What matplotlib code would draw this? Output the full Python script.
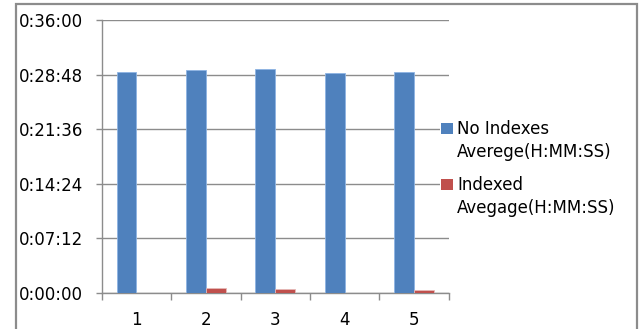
import matplotlib
matplotlib.use("Agg")
import matplotlib.pyplot as plt
from matplotlib.patches import Rectangle
from matplotlib.ticker import FuncFormatter, MultipleLocator, FixedLocator, NullFormatter
import numpy as np

# Run numbers and average durations in seconds
runs = ["1", "2", "3", "4", "5"]
no_index_avg = [1747, 1763, 1771, 1739, 1747]
indexed_avg = [0, 40, 32, 0, 24]
series_labels = [["No Indexes", "Averege(H:MM:SS)"],
                 ["Indexed", "Avegage(H:MM:SS)"]]

BLUE = "#4F81BD"
RED = "#C0504D"
GRID = "#8C8C8C"
FS = 12

plt.rcParams["font.family"] = ["DejaVu Sans"]

W, H = 640, 329
fig = plt.figure(figsize=(W / 100, H / 100), dpi=100)

def px(x0, y0, x1, y1):
    """Pixel box (top-left origin) to figure fractions."""
    return [x0 / W, 1 - y1 / H, (x1 - x0) / W, (y1 - y0) / H]

ax = fig.add_axes(px(101.7, 20, 448.7, 292.7))

x = np.arange(len(runs))
width = 1 / 3.5
ax.bar(x - width / 2, no_index_avg, width, color=BLUE,
       edgecolor="#8EB4E3", linewidth=0.6, zorder=3)
ax.bar(x + width / 2, indexed_avg, width, color=RED,
       edgecolor="#E6B9B8", linewidth=0.6, zorder=3)

ax.set_xlim(-0.5, len(runs) - 0.5)
ax.set_ylim(0, 2160)

def hms(v, pos=None):
    v = int(round(v))
    return f"{v // 3600}:{(v % 3600) // 60:02d}:{v % 60:02d}"

ax.yaxis.set_major_locator(MultipleLocator(432))
ax.yaxis.set_major_formatter(FuncFormatter(hms))
ax.grid(axis="y", color=GRID, linewidth=1.0, zorder=0)

# category boundary ticks with labels at the centres
ax.xaxis.set_major_locator(FixedLocator(np.arange(-0.5, len(runs), 1.0)))
ax.xaxis.set_major_formatter(NullFormatter())
ax.set_xticks(x, runs, minor=True)
ax.tick_params(axis="x", which="major", length=4.8, width=1.0,
               color=GRID, direction="out")
ax.tick_params(axis="x", which="minor", length=0, pad=13, labelsize=FS)
ax.tick_params(axis="y", length=4.1, width=1.0, color=GRID,
               pad=9.5, labelsize=FS)

for s in ("top", "right"):
    ax.spines[s].set_visible(False)
for s in ("left", "bottom"):
    ax.spines[s].set_color(GRID)
    ax.spines[s].set_linewidth(1.0)
ax.set_axisbelow(True)

# legend drawn beside the plot, marker aligned with the first text line
legend_bg = Rectangle((440 / W, 1 - 225 / H), 190 / W, 115 / H,
                      transform=fig.transFigure, facecolor="white",
                      edgecolor="none", zorder=5)
fig.add_artist(legend_bg)
entries = [(BLUE, 122.7, 134.3), (RED, 178.5, 190.5)]
for (color, mtop, base), lines in zip(entries, series_labels):
    fig.add_artist(Rectangle((440.7 / W, 1 - (mtop + 11) / H), 12 / W, 11 / H,
                             transform=fig.transFigure, facecolor=color,
                             edgecolor="none", zorder=6))
    for k, line in enumerate(lines):
        fig.text(457 / W, 1 - (base + 22.4 * k) / H, line, fontsize=FS,
                 va="baseline", ha="left", color="black", zorder=7)

# outer chart border
fig.add_artist(Rectangle((16 / W, -0.05), (637 - 16) / W, 1.05 - 4.5 / H,
                         transform=fig.transFigure, facecolor="none",
                         edgecolor="#8C8C8C", linewidth=1.6, zorder=8))

fig.savefig("out.png", dpi=100)
